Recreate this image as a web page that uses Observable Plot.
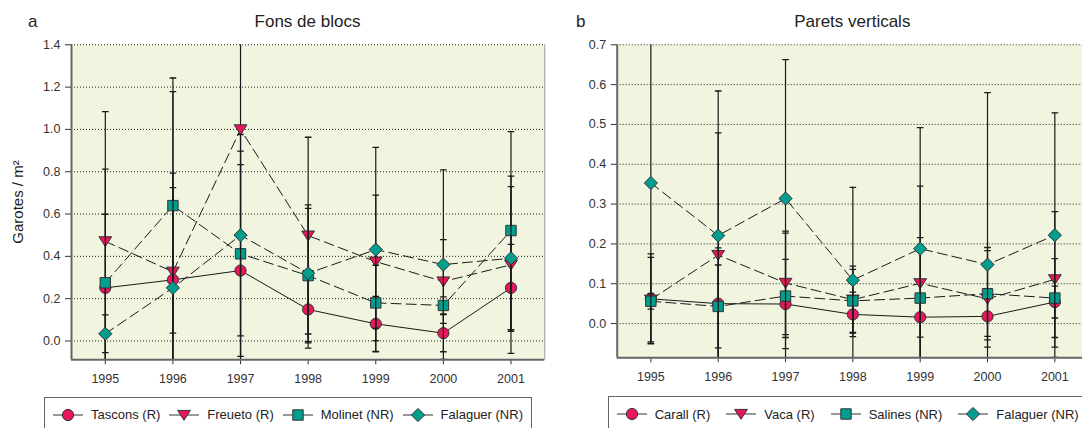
<!DOCTYPE html>
<html>
<head>
<meta charset="utf-8">
<script src="https://cdn.jsdelivr.net/npm/d3@7"></script>
<script src="https://cdn.jsdelivr.net/npm/@observablehq/plot@0.6"></script>
<style>
html,body{margin:0;padding:0;background:#fff;overflow:hidden;width:1082px;height:428px;font-family:"Liberation Sans",Arial,Helvetica,sans-serif;color:#222}
#root{position:relative;width:1082px;height:428px;overflow:hidden}
.letter{position:absolute;font-size:17px;line-height:20px;color:#222}
.title{position:absolute;font-size:17px;line-height:20px;white-space:nowrap;transform:translateX(-50%);color:#222}
.ylabel{position:absolute;font-size:15px;line-height:16px;white-space:nowrap;transform:translate(-50%,-50%) rotate(-90deg);color:#222}
.chart{position:absolute;top:30px}
.legend{position:absolute;box-sizing:border-box;border:1.5px solid #666;display:flex;justify-content:space-between;align-items:center;padding:0 8px;height:36px;font-size:13px;color:#222}
.item{display:flex;align-items:center;white-space:nowrap}
.item svg{overflow:visible;margin-right:8px}
</style>
</head>
<body>
<div id="root"></div>
<script>
// ---------- data ----------
const years = [1995, 1996, 1997, 1998, 1999, 2000, 2001];
const yTicksA = [0.0, 0.2, 0.4, 0.6, 0.8, 1.0, 1.2, 1.4];
const yTicksB = [0.0, 0.1, 0.2, 0.3, 0.4, 0.5, 0.6, 0.7];

// Panel a: Fons de blocs
const namesA = ["Tascons (R)", "Freueto (R)", "Molinet (NR)", "Falaguer (NR)"];
const tascons     = [0.251, 0.289, 0.333, 0.149, 0.081, 0.037, 0.251];
const tasconsErr  = [0.348, 0.504, 0.501, 0.183, 0.130, 0.088, 0.206];
const freueto     = [0.471, 0.327, 1.000, 0.498, 0.375, 0.281, 0.360];
const freuetoErr  = [0.613, 0.852, 1.150, 0.465, 0.314, 0.198, 0.419];
const molinet     = [0.275, 0.640, 0.412, 0.309, 0.180, 0.168, 0.522];
const molinetErr  = [0.537, 0.603, 0.485, 0.318, 0.178, 0.040, 0.468];
const falaguerA    = [0.034, 0.251, 0.500, 0.320, 0.432, 0.361, 0.391];
const falaguerAErr = [0.089, 0.474, 0.476, 0.323, 0.483, 0.448, 0.339];

// Panel b: Parets verticals
const namesB = ["Carall (R)", "Vaca (R)", "Salines (NR)", "Falaguer (NR)"];
const carall      = [0.062, 0.050, 0.049, 0.023, 0.016, 0.018, 0.054];
const carallErr   = [0.113, 0.140, 0.112, 0.056, 0.050, 0.050, 0.040];
const vaca        = [0.060, 0.172, 0.102, 0.060, 0.101, 0.062, 0.111];
const vacaErr     = [0.106, 0.307, 0.130, 0.084, 0.244, 0.121, 0.170];
const salines     = [0.056, 0.043, 0.069, 0.057, 0.064, 0.075, 0.064];
const salinesErr  = [0.020, 0.104, 0.158, 0.079, 0.152, 0.116, 0.099];
const falaguerB    = [0.353, 0.221, 0.314, 0.109, 0.188, 0.148, 0.222];
const falaguerBErr = [0.403, 0.363, 0.349, 0.233, 0.304, 0.432, 0.307];

// ---------- styles ----------
const RED = "#E8175D", TEAL = "#009E8E", BG = "#F1F4DE", INK = "#1a1a1a";
const DASH = "10,5";
const symbols = {
  circle: {draw(c, s) { const r = Math.sqrt(s / Math.PI); c.moveTo(r, 0); c.arc(0, 0, r, 0, 2 * Math.PI); c.closePath(); }},
  triangleDown: {draw(c, s) { const r = Math.sqrt(s / Math.PI); c.moveTo(-r, -0.72 * r); c.lineTo(r, -0.72 * r); c.lineTo(0, 0.82 * r); c.closePath(); }},
  square: {draw(c, s) { const r = Math.sqrt(s / Math.PI); c.rect(-r, -r, 2 * r, 2 * r); }},
  diamond: {draw(c, s) { const r = Math.sqrt(s / Math.PI); c.moveTo(0, -r); c.lineTo(r, 0); c.lineTo(0, r); c.lineTo(-r, 0); c.closePath(); }},
  cap: {draw(c, s) { const r = Math.sqrt(s / Math.PI); c.moveTo(-r, 0); c.lineTo(r, 0); }}
};
const symbolR = {circle: 5.6, triangleDown: 6.4, square: 5.2, diamond: 6.6, cap: 3.3};
const styleKeys = [
  {symbol: "circle", color: RED, dash: null},
  {symbol: "triangleDown", color: RED, dash: DASH},
  {symbol: "square", color: TEAL, dash: DASH},
  {symbol: "diamond", color: TEAL, dash: DASH}
];

function makeSeries(names, vals, errs) {
  return names.map((name, k) => ({
    name, ...styleKeys[k],
    rows: years.map((year, i) => ({year, value: vals[k][i], lo: vals[k][i] - errs[k][i], hi: vals[k][i] + errs[k][i]}))
  }));
}
const seriesA = makeSeries(namesA, [tascons, freueto, molinet, falaguerA], [tasconsErr, freuetoErr, molinetErr, falaguerAErr]);
const seriesB = makeSeries(namesB, [carall, vaca, salines, falaguerB], [carallErr, vacaErr, salinesErr, falaguerBErr]);

const xDomain = [1994.5, 2001.5];

function panel({series, yDomain, yTicks, width, height, marginLeft, marginRight, marginTop, marginBottom}) {
  const marks = [
    Plot.frame({fill: BG, stroke: "none"}),
    Plot.gridY({ticks: yTicks, stroke: "#222", strokeOpacity: 1, strokeWidth: 1, strokeDasharray: "1,2"}),
    Plot.axisY({ticks: yTicks, tickFormat: d => d.toFixed(1), tickSize: 6, tickPadding: 5, label: null, fontSize: 12.5, color: "#333"}),
    Plot.axisX({ticks: years, tickFormat: d => String(d), tickSize: 5, tickPadding: 9, label: null, fontSize: 12.5, color: "#333"}),
    Plot.ruleX([xDomain[1]], {stroke: "#999", strokeWidth: 1}),
  ];
  for (const s of series) {
    marks.push(
      Plot.ruleX(s.rows, {x: "year", y1: "lo", y2: "hi", stroke: INK, strokeWidth: 1.2, clip: true}),
      Plot.dot(s.rows, {x: "year", y: "hi", symbol: symbols.cap, r: symbolR.cap, stroke: INK, fill: "none", strokeWidth: 1.3, clip: true}),
      Plot.dot(s.rows, {x: "year", y: "lo", symbol: symbols.cap, r: symbolR.cap, stroke: INK, fill: "none", strokeWidth: 1.3, clip: true}),
      Plot.line(s.rows, {x: "year", y: "value", stroke: INK, strokeWidth: 1, strokeDasharray: s.dash || undefined}),
      Plot.dot(s.rows, {x: "year", y: "value", symbol: symbols[s.symbol], r: symbolR[s.symbol], fill: s.color, stroke: "#333", strokeWidth: 1, fillOpacity: 1})
    );
  }
  marks.push(
    Plot.ruleX([xDomain[0]], {stroke: "#666", strokeWidth: 2}),
    Plot.ruleY([yDomain[0]], {stroke: "#666", strokeWidth: 2})
  );
  return Plot.plot({
    width, height, marginLeft, marginRight, marginTop, marginBottom,
    x: {type: "linear", domain: xDomain},
    y: {type: "linear", domain: yDomain},
    style: {fontFamily: "Liberation Sans, Arial, sans-serif", fontSize: "12.5px", background: "transparent", overflow: "visible", color: "#333"},
    marks
  });
}

function legend(series, left, top, width) {
  const div = document.createElement("div");
  div.className = "legend";
  Object.assign(div.style, {left: left + "px", top: top + "px", width: width + "px"});
  for (const s of series) {
    const item = document.createElement("div");
    item.className = "item";
    const p = d3.path();
    symbols[s.symbol].draw(p, Math.PI * symbolR[s.symbol] ** 2);
    item.innerHTML = `<svg width="30" height="16" viewBox="-15 -8 30 16"><line x1="-15" x2="15" y1="0" y2="0" stroke="#333" stroke-width="1"/><path d="${p}" fill="${s.color}" stroke="#333" stroke-width="1"/></svg><span>${s.name}</span>`;
    div.appendChild(item);
  }
  return div;
}

function addText(cls, text, left, top) {
  const d = document.createElement("div");
  d.className = cls;
  d.textContent = text;
  d.style.left = left + "px";
  d.style.top = top + "px";
  root.appendChild(d);
}

const root = document.getElementById("root");

// Panel a
const chartA = panel({series: seriesA, yDomain: [-0.089, 1.4], yTicks: yTicksA, width: 560, height: 360,
  marginLeft: 71, marginRight: 15.7, marginTop: 14.3, marginBottom: 30.7});
chartA.classList.add("chart");
chartA.style.left = "0px";
root.appendChild(chartA);
addText("letter", "a", 28, 11.5);
addText("title", "Fons de blocs", 307.5, 11.5);
addText("ylabel", "Garotes / m²", 18, 201.5);
root.appendChild(legend(seriesA, 44, 396.7, 488));

// Panel b
const chartB = panel({series: seriesB, yDomain: [-0.086, 0.7], yTicks: yTicksB, width: 540, height: 360,
  marginLeft: 56.7, marginRight: 12, marginTop: 14.3, marginBottom: 32.7});
chartB.classList.add("chart");
chartB.style.left = "560px";
root.appendChild(chartB);
addText("letter", "b", 576, 11.5);
addText("title", "Parets verticals", 852.3, 11.5);
root.appendChild(legend(seriesB, 607.7, 396, 480));
</script>
</body>
</html>
